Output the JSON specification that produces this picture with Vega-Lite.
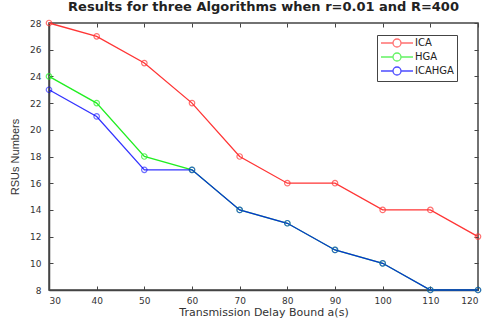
{
  "$schema": "https://vega.github.io/schema/vega-lite/v6.json",
  "width": 429,
  "height": 267,
  "autosize": {"type": "none"},
  "padding": {"left": 49, "top": 23, "right": 9, "bottom": 34},
  "background": "white",
  "config": {
    "font": "DejaVu Sans",
    "view": {"stroke": "#444444", "strokeWidth": 1.5},
    "axis": {"grid": false, "domainColor": "#444444", "domainWidth": 1.5, "tickColor": "#444444", "labelColor": "#333333", "labelFontSize": 9, "titleFontSize": 11, "titleFontWeight": "normal", "titleColor": "#333333", "tickSize": -4}
  },
  "title": {"text": "Results for three Algorithms when r=0.01 and R=400", "fontSize": 13, "fontWeight": "bold", "color": "#222222", "offset": 4},
  "data": {
    "values": [
      {"x": 30, "y": 28, "alg": "ICA"}, {"x": 40, "y": 27, "alg": "ICA"}, {"x": 50, "y": 25, "alg": "ICA"}, {"x": 60, "y": 22, "alg": "ICA"}, {"x": 70, "y": 18, "alg": "ICA"}, {"x": 80, "y": 16, "alg": "ICA"}, {"x": 90, "y": 16, "alg": "ICA"}, {"x": 100, "y": 14, "alg": "ICA"}, {"x": 110, "y": 14, "alg": "ICA"}, {"x": 120, "y": 12, "alg": "ICA"},
      {"x": 30, "y": 24, "alg": "HGA"}, {"x": 40, "y": 22, "alg": "HGA"}, {"x": 50, "y": 18, "alg": "HGA"}, {"x": 60, "y": 17, "alg": "HGA"}, {"x": 70, "y": 14, "alg": "HGA"}, {"x": 80, "y": 13, "alg": "HGA"}, {"x": 90, "y": 11, "alg": "HGA"}, {"x": 100, "y": 10, "alg": "HGA"}, {"x": 110, "y": 8, "alg": "HGA"}, {"x": 120, "y": 8, "alg": "HGA"},
      {"x": 30, "y": 23, "alg": "ICAHGA"}, {"x": 40, "y": 21, "alg": "ICAHGA"}, {"x": 50, "y": 17, "alg": "ICAHGA"}, {"x": 60, "y": 17, "alg": "ICAHGA"}, {"x": 70, "y": 14, "alg": "ICAHGA"}, {"x": 80, "y": 13, "alg": "ICAHGA"}, {"x": 90, "y": 11, "alg": "ICAHGA"}, {"x": 100, "y": 10, "alg": "ICAHGA"}, {"x": 110, "y": 8, "alg": "ICAHGA"}, {"x": 120, "y": 8, "alg": "ICAHGA"}
    ]
  },
  "layer": [
    {
      "mark": {"type": "point", "opacity": 0},
      "encoding": {
        "x": {"field": "x", "type": "quantitative", "scale": {"domain": [30, 120], "nice": false, "zero": false}, "axis": {"orient": "top", "values": [30,40,50,60,70,80,90,100,110,120], "labels": false, "title": null, "domain": false}},
        "y": {"field": "y", "type": "quantitative", "scale": {"domain": [8, 28], "nice": false, "zero": false}, "axis": {"orient": "right", "values": [8,10,12,14,16,18,20,22,24,26,28], "labels": false, "title": null, "domain": false}}
      }
    },
    {
      "encoding": {
        "x": {"field": "x", "type": "quantitative", "scale": {"domain": [30, 120], "nice": false, "zero": false}, "axis": {"values": [30,40,50,60,70,80,90,100,110,120], "title": "Transmission Delay Bound a(s)", "titlePadding": 1, "labelPadding": 10}},
        "y": {"field": "y", "type": "quantitative", "scale": {"domain": [8, 28], "nice": false, "zero": false}, "axis": {"values": [8,10,12,14,16,18,20,22,24,26,28], "title": "RSUs Numbers", "titleFont": "Liberation Sans", "titlePadding": 9, "labelPadding": 12}},
        "color": {"field": "alg", "type": "nominal", "sort": ["ICA", "HGA", "ICAHGA"], "scale": {"domain": ["ICA", "HGA", "ICAHGA"], "range": ["#ff3535", "#22ee22", "#0000ff"]},
          "legend": {"title": null, "orient": "none", "legendX": 328, "legendY": 12, "direction": "vertical", "strokeColor": "#444444", "fillColor": "white", "padding": 3, "labelFontSize": 10, "labelColor": "#222222", "symbolType": "M-1,0L2,0M4,0L7,0M4,0A1,1 0 1,1 2,0A1,1 0 1,1 4,0", "symbolSize": 64, "symbolStrokeWidth": 1.3, "symbolFillColor": "transparent", "rowPadding": 0, "labelOffset": 25, "labelLimit": 70}},
        "order": {"field": "alg"},
        "strokeOpacity": {"condition": {"test": "datum.alg === 'ICAHGA'", "value": 0.8}, "value": 1}
      },
      "layer": [
        {"mark": {"type": "line", "strokeWidth": 1.3}},
        {"mark": {"type": "point", "shape": "circle", "size": 30, "filled": false, "strokeWidth": 1.2}}
      ]
    }
  ],
  "resolve": {"axis": {"x": "independent", "y": "independent"}}
}
